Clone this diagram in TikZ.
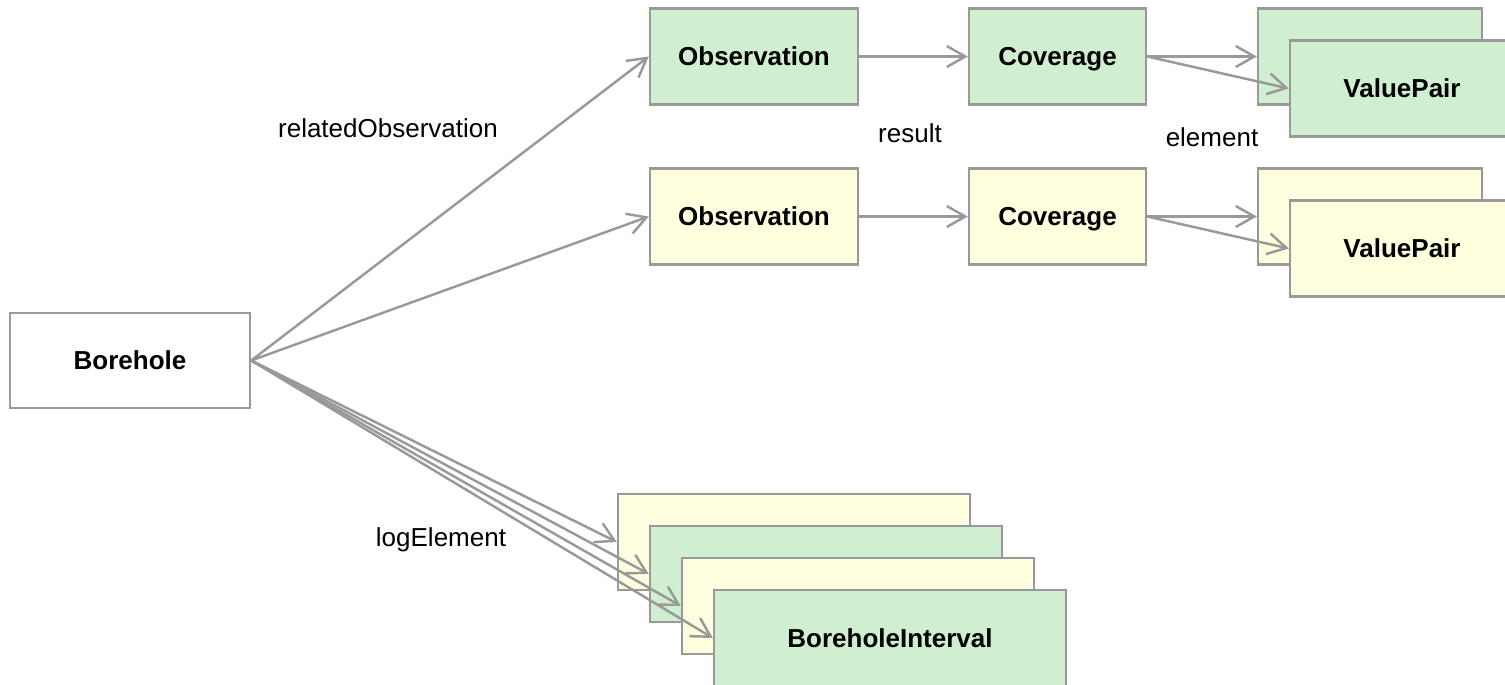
\documentclass[tikz,border=0pt]{standalone}
\usepackage{fontspec}
\setmainfont{Liberation Sans}
\usepackage{xcolor}
\usetikzlibrary{positioning, arrows.meta}

\definecolor{lineGray}{RGB}{153,153,153}
\definecolor{featGreen}{RGB}{208,239,208}
\definecolor{featYellow}{RGB}{255,255,224}

\begin{document}
\begin{tikzpicture}[
    x=0.02cm, y=-0.02cm,
    cls/.style = {
        rectangle, draw=lineGray, line width=1.4pt, inner sep=0pt,
        minimum height=1.92cm, align=center, text height=11pt, text depth=0.3pt,
        font=\fontsize{14.8}{17}\selectfont\bfseries, text=black
    },
    greencls/.style = {cls, fill=featGreen},
    yellowcls/.style = {cls, fill=featYellow},
    rolelabel/.style = {
        font=\fontsize{14.8}{17}\selectfont, text=black, inner sep=0pt
    },
    arrow/.style = {
        -{Straight Barb[length=0.37cm, width=0.42cm, line width=1.4pt]},
        line width=1.4pt, color=lineGray
    }
]

\useasboundingbox (0,0) rectangle (1505,685);
\clip (0,0) rectangle (1505,685);

% ── Borehole ──
\node[cls, fill=white, minimum width=4.8cm, minimum height=1.9cm] (borehole) at (130, 360.5) {Borehole};

% ── Green row ──
\node[greencls, minimum width=4.16cm] (obsG) at (754, 56.5)    {Observation};
\node[greencls, minimum width=3.54cm] (covG) at (1057.5, 56.5) {Coverage};
\node[greencls, minimum width=4.48cm] (vpGback)  at (1370, 56.5) {};
\node[greencls, minimum width=4.48cm] (vpGfront) at (1402, 88.5) {ValuePair};

% ── Yellow row ──
\node[yellowcls, minimum width=4.16cm] (obsY) at (754, 216.5)    {Observation};
\node[yellowcls, minimum width=3.54cm] (covY) at (1057.5, 216.5) {Coverage};
\node[yellowcls, minimum width=4.48cm] (vpYback)  at (1370, 216.5) {};
\node[yellowcls, minimum width=4.48cm] (vpYfront) at (1402, 248.5) {ValuePair};

% ── Borehole intervals ──
\node[yellowcls, minimum width=7.04cm] (bi1) at (794, 542) {};
\node[greencls,  minimum width=7.04cm] (bi2) at (826, 574) {};
\node[yellowcls, minimum width=7.04cm] (bi3) at (858, 606) {};
\node[greencls,  minimum width=7.04cm] (bi4) at (890, 638) {BoreholeInterval};

% ── Role labels ──
\node[rolelabel] (lRel)  at (388, 128)  {relatedObservation};
\node[rolelabel] (lRes)  at (910, 133)  {result};
\node[rolelabel] (lElem) at (1212, 137) {element};
\node[rolelabel] (lLog)  at (441, 540)  {logElement};

% ── Arrows: borehole → observations ──
\draw[arrow] (borehole.east) -- (obsG.west);
\draw[arrow] (borehole.east) -- (obsY.west);

% ── Arrows: observation → coverage → value pairs ──
\draw[arrow] (obsG.east) -- (covG.west);
\draw[arrow] (covG.east) -- (vpGback.west);
\draw[arrow] (covG.east) -- (vpGfront.west);
\draw[arrow] (obsY.east) -- (covY.west);
\draw[arrow] (covY.east) -- (vpYback.west);
\draw[arrow] (covY.east) -- (vpYfront.west);

% ── Arrows: borehole → intervals ──
\foreach \bi in {bi1, bi2, bi3, bi4}
    \draw[arrow] (borehole.east) -- (\bi.west);

\end{tikzpicture}
\end{document}
